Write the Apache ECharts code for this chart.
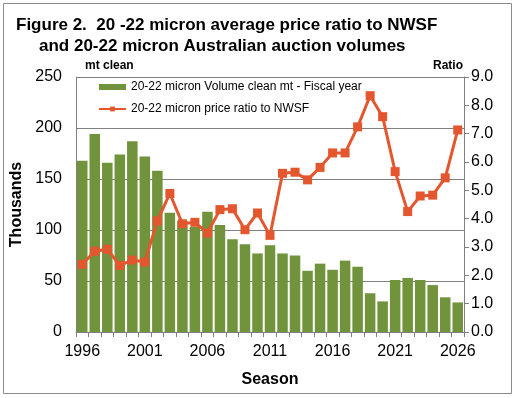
<!DOCTYPE html>
<html>
<head>
<meta charset="utf-8">
<script src="https://cdn.jsdelivr.net/npm/echarts@6/dist/echarts.min.js"></script>
<style>
  html, body { margin: 0; padding: 0; background: #fff; }
  #main { width: 517px; height: 398px; }
</style>
</head>
<body>
<div id="main"></div>
<script>
// season years
var seasons = ['1996','1997','1998','1999','2000','2001','2002','2003','2004','2005',
  '2006','2007','2008','2009','2010','2011','2012','2013','2014','2015',
  '2016','2017','2018','2019','2020','2021','2022','2023','2024','2025','2026'];
// 20-22 micron volume, thousand mt clean
var volumes = [168, 194, 166, 174, 187, 172, 158, 117, 109, 103,
  118, 105, 91, 86, 77, 85, 77, 75, 60, 67,
  61, 70, 64, 38, 30, 51, 53, 51, 46, 34, 29];
// price ratio to NWSF
var ratios = [2.39, 2.85, 2.92, 2.35, 2.54, 2.47, 3.92, 4.89, 3.82, 3.87,
  3.49, 4.32, 4.35, 3.61, 4.2, 3.41, 5.6, 5.64, 5.37, 5.81,
  6.32, 6.32, 7.24, 8.34, 7.6, 5.66, 4.25, 4.8, 4.83, 5.44, 7.13];

var barName = '20-22 micron Volume clean mt - Fiscal year';
var lineName = '20-22 micron price ratio to NWSF';
var font = 'Arial, "Liberation Sans", sans-serif';

var myChart = echarts.init(document.getElementById('main'));

var option = {
    backgroundColor: '#fff',
    animation: false,
    textStyle: { fontFamily: font },
    title: [
        { text: 'Figure 2.  20 -22 micron average price ratio to NWSF', left: 11, top: 12,
          textStyle: { fontSize: 17, fontWeight: 'bold', color: '#000', fontFamily: font } },
        { text: 'and 20-22 micron Australian auction volumes', left: 34, top: 33,
          textStyle: { fontSize: 17, fontWeight: 'bold', color: '#000', fontFamily: font } },
        { text: 'mt clean', left: 80, top: 55,
          textStyle: { fontSize: 12, fontWeight: 'bold', color: '#000', fontFamily: font } },
        { text: 'Ratio', left: 428, top: 55,
          textStyle: { fontSize: 12, fontWeight: 'bold', color: '#000', fontFamily: font } }
    ],
    graphic: [{
        type: 'rect',
        shape: { x: 3.5, y: 3.5, width: 508, height: 390 },
        style: { fill: 'none', stroke: '#8c8c8c', lineWidth: 1 },
        silent: true
    }],
    legend: {
        orient: 'vertical',
        left: 93,
        top: 76,
        itemGap: 10,
        itemWidth: 27,
        itemHeight: 6,
        textStyle: { fontSize: 12, color: '#000', fontFamily: font },
        data: [
            { name: barName, icon: 'rect', itemStyle: { borderWidth: 0 } },
            { name: lineName }
        ]
    },
    grid: { left: 76, right: 53, top: 77, bottom: 66 },
    xAxis: {
        type: 'category',
        data: seasons,
        name: 'Season',
        nameLocation: 'middle',
        nameGap: 40,
        nameTextStyle: { fontSize: 16, fontWeight: 'bold', color: '#000' },
        axisLine: { lineStyle: { color: '#808080' } },
        axisTick: { show: true, interval: 0, length: 5, lineStyle: { color: '#808080' } },
        axisLabel: { interval: 4, fontSize: 16, color: '#000', margin: 12 }
    },
    yAxis: [{
        type: 'value',
        min: 0,
        max: 250,
        interval: 50,
        name: 'Thousands',
        nameLocation: 'middle',
        nameGap: 44,
        nameTextStyle: { fontSize: 16, fontWeight: 'bold', color: '#000' },
        axisLine: { show: true, lineStyle: { color: '#808080' } },
        axisTick: { show: false },
        axisLabel: { fontSize: 16, color: '#000', margin: 14 },
        splitLine: { show: true, lineStyle: { color: '#808080', width: 1 } }
    }, {
        type: 'value',
        min: 0,
        max: 9,
        interval: 1,
        position: 'right',
        axisLine: { show: true, lineStyle: { color: '#808080' } },
        axisTick: { show: true, length: 5, lineStyle: { color: '#808080' } },
        axisLabel: { fontSize: 16, color: '#000', margin: 7,
            formatter: function (v) { return v.toFixed(1); } },
        splitLine: { show: false }
    }],
    series: [{
        name: barName,
        type: 'bar',
        data: volumes,
        barCategoryGap: '16%',
        itemStyle: { color: '#71933c' }
    }, {
        name: lineName,
        type: 'line',
        yAxisIndex: 1,
        data: ratios,
        symbol: 'rect',
        symbolSize: 9,
        showSymbol: true,
        showAllSymbol: true,
        lineStyle: { color: '#e4572e', width: 3 },
        itemStyle: { color: '#e4572e' }
    }]
};

myChart.setOption(option);
</script>
</body>
</html>
